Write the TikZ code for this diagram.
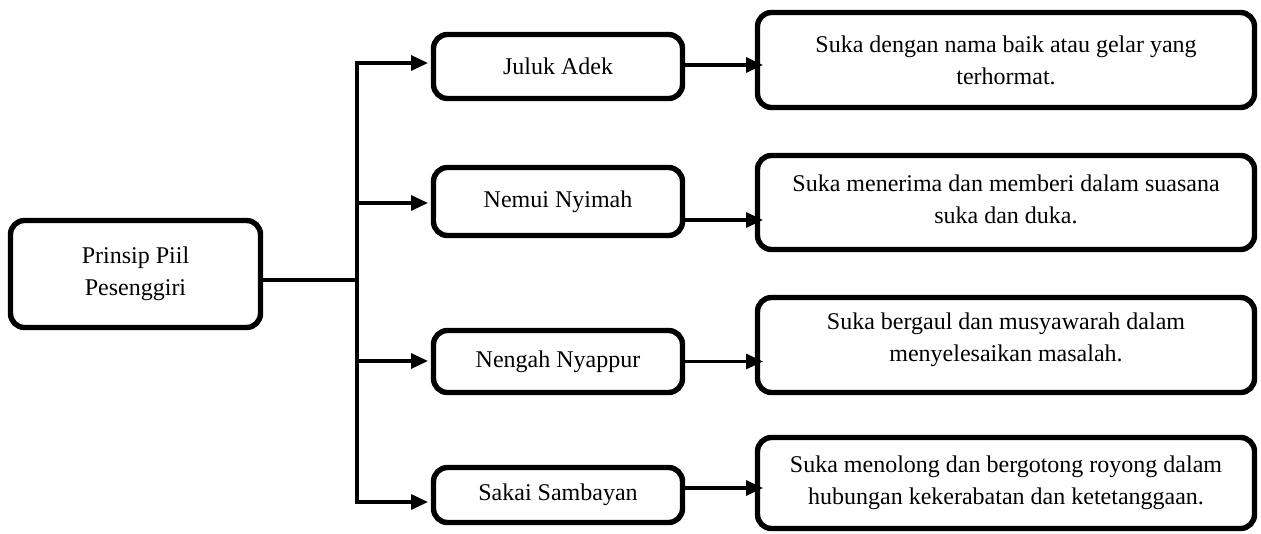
\documentclass[tikz,border=0pt]{standalone}
\usepackage{fontspec}
\setmainfont{Liberation Serif}
\usetikzlibrary{arrows.meta}

\newcommand{\droptext}[1]{\rule[-#1]{0pt}{#1}}

\begin{document}
\begin{tikzpicture}[x=0.5pt,y=-0.5pt,
    box/.style={draw,line width=2.7pt,rounded corners=7pt,outer sep=0pt,inner sep=2pt,
      align=center,font=\fontsize{12}{16}\selectfont},
    link/.style={line width=1.6pt},
    arr/.style={link,-{Triangle[length=8.5pt,width=7.5pt]}}]
    \useasboundingbox (0,0) rectangle (1261,534);

    \node [box,minimum width=125pt,minimum height=53.5pt] (lead) at (135.5,274) {Prinsip Piil\\Pesenggiri};

    \node [box,minimum width=124.5pt,minimum height=32pt] (juluk) at (558,66.5) {Juluk Adek};
    \node [box,minimum width=124.5pt,minimum height=34pt] (nemui) at (558,201.5) {Nemui Nyimah};
    \node [box,minimum width=124.5pt,minimum height=31pt] (nengah) at (558,361.5) {Nengah Nyappur};
    \node [box,minimum width=124.5pt,minimum height=27.5pt] (sakai) at (558,495) {Sakai Sambayan};

    \node [box,minimum width=248.5pt,minimum height=47.5pt] (desc1) at (1006,60) {Suka dengan nama baik atau gelar yang\\terhormat.};
    \node [box,minimum width=248.5pt,minimum height=47pt] (desc2) at (1006,202.5) {Suka menerima dan memberi dalam suasana\\suka dan duka.\droptext{3.5pt}};
    \node [box,minimum width=248.5pt,minimum height=47.5pt] (desc3) at (1006,345) {Suka bergaul dan musyawarah dalam\\menyelesaikan masalah.\droptext{8pt}};
    \node [box,minimum width=248.5pt,minimum height=45.5pt] (desc4) at (1006,483) {Suka menolong dan bergotong royong dalam\\hubungan kekerabatan dan ketetanggaan.};

    % trunk
    \coordinate (hub) at (357,280);
    \coordinate (b1) at (357,63);
    \coordinate (b2) at (357,203);
    \coordinate (b3) at (357,361);
    \coordinate (b4) at (357,502);
    \draw [link] (lead.east |- hub) -- (hub);
    \draw [link,line cap=rect] (b1) -- (b4);

    \draw [arr,shorten >=2.75pt] (b1) -- (b1 -| juluk.west);
    \draw [arr,shorten >=2.75pt] (b2) -- (b2 -| nemui.west);
    \draw [arr,shorten >=2.75pt] (b3) -- (b3 -| nengah.west);
    \draw [arr,shorten >=2.75pt] (b4) -- (b4 -| sakai.west);

    % to the descriptions
    \coordinate (o1) at ([yshift=0.75pt]juluk.east);
    \coordinate (o2) at ([yshift=-9.25pt]nemui.east);
    \coordinate (o3) at (nengah.east);
    \coordinate (o4) at ([yshift=3.5pt]sakai.east);
    \draw [arr,shorten >=-2.75pt] (o1) -- (o1 -| desc1.west);
    \draw [arr,shorten >=-2.75pt] (o2) -- (o2 -| desc2.west);
    \draw [arr,shorten >=-2.75pt] (o3) -- (o3 -| desc3.west);
    \draw [arr,shorten >=-2.75pt] (o4) -- (o4 -| desc4.west);
\end{tikzpicture}
\end{document}
